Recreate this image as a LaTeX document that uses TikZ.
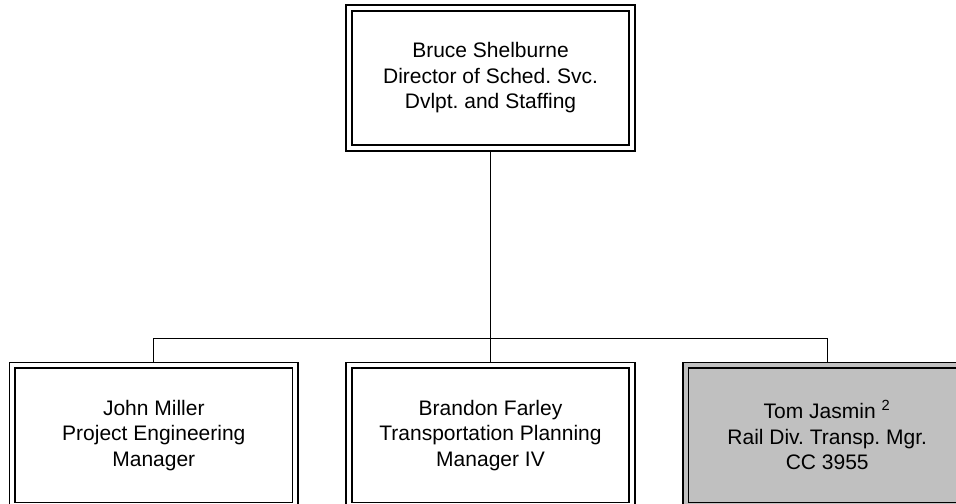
\documentclass[tikz,border=0pt]{standalone}
\usepackage{fontspec}
\setmainfont{Liberation Sans}
\usetikzlibrary{positioning}
\definecolor{boxgrey}{RGB}{192, 192, 192}
\frenchspacing

\begin{document}
\begin{tikzpicture}[
    node distance=23.25pt,
    orgbox/.style={rectangle, draw=black, line width=0.8pt, double=white, double distance=2pt, outer sep=1.8pt, minimum width=141.5pt, minimum height=70pt, inner sep=0pt, align=center, font=\fontsize{10.5}{12.75}\selectfont},
    link/.style={draw=black, line width=0.6pt}
]
\useasboundingbox (0,0) rectangle (478pt,-251.5pt);
\clip (0,0) rectangle (478pt,-251.5pt);

\node[orgbox] (boss) at (245.25pt,-39pt) {Bruce Shelburne\\Director of Sched. Svc.\\Dvlpt. and Staffing};
\node[orgbox, below=105pt of boss] (mgr2) {Brandon Farley\\Transportation Planning\\Manager IV};
\node[orgbox, left=of mgr2] (mgr1) {John Miller\\Project Engineering\\Manager};
\node[orgbox, right=of mgr2, fill=boxgrey, double=boxgrey] (mgr3) {Tom Jasmin \textsuperscript{2}\\Rail Div. Transp. Mgr.\\CC 3955};

\coordinate[below=93.4pt of boss.south] (bus);

\draw[link] (boss.south) -- (mgr2.north);
\draw[link] (mgr1.north) |- (bus) -| (mgr3.north);
\end{tikzpicture}
\end{document}
